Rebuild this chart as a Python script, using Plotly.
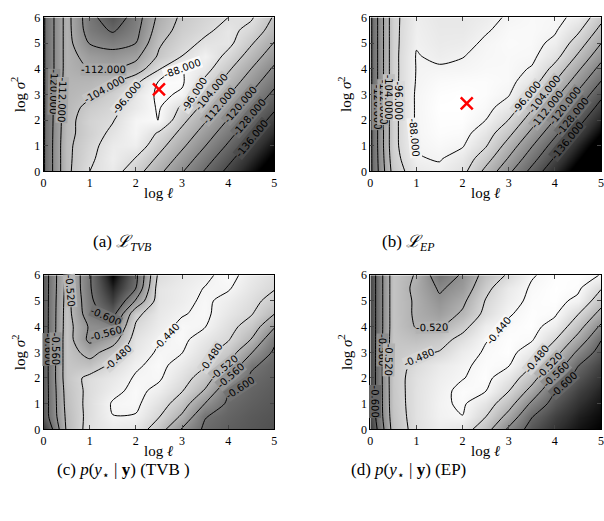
import math
import plotly.graph_objects as go

# ---------------- data ----------------
log_ell = [0, 0.5, 1, 1.5, 2, 2.5, 3, 3.5, 4, 4.5, 5]
log_sigma2 = [0, 0.5, 1, 1.5, 2, 2.5, 3, 3.5, 4, 4.5, 5, 5.5, 6]

# (a) L_TVB  rows: log sigma^2 = 0 .. 6, cols: log ell = 0 .. 5
L_tvb = [
    [-129, -106, -96, -92.5, -100.8, -110.1, -119.4, -128.7, -138, -147.3, -156.6],
    [-129, -106, -97.5, -91.2, -96.4, -105.7, -115, -124.3, -133.6, -142.9, -152.2],
    [-129, -106, -98.5, -92.2, -91, -101.2, -110.5, -119.8, -129.1, -138.4, -147.7],
    [-129, -106.5, -100, -94.3, -89.2, -96.9, -106.2, -115.5, -124.8, -134.1, -143.4],
    [-129, -107, -99.5, -96.5, -89, -87.9, -101.8, -111.1, -120.4, -129.7, -139],
    [-129, -107.5, -101.7, -98.5, -92.5, -87.2, -97.3, -106.6, -115.9, -125.2, -134.5],
    [-129, -108, -105.5, -100.5, -93.5, -86.5, -89, -102.1, -111.4, -120.7, -130],
    [-129, -108.5, -108, -105.5, -98, -87.5, -87, -97.7, -107, -116.3, -125.6],
    [-129, -109, -112.3, -112.5, -109, -96.7, -87.8, -93, -102.7, -112, -121.3],
    [-129, -109, -115, -117, -114, -103, -96, -90, -98.2, -107.5, -116.8],
    [-129, -109, -120.5, -123, -120, -105, -99, -94.5, -93.8, -103.1, -112.4],
    [-129, -109, -124, -129, -122.5, -108, -101, -97.5, -93.5, -98.6, -107.9],
    [-129, -109, -125, -134, -124, -110, -102.5, -99, -96, -95, -105],
]

# (b) L_EP
L_ep = [
    [-130, -101, -91, -89.5, -93.5, -106.2, -118.3, -130.4, -142.5, -154.6, -166.7],
    [-130, -99.5, -88.5, -87.5, -91, -100.6, -112.7, -124.8, -136.9, -149, -161.1],
    [-130, -98.5, -87.5, -86, -87.5, -95.3, -107.4, -119.5, -131.6, -143.7, -155.8],
    [-130, -98.5, -87, -85, -85.5, -92, -101.8, -113.9, -126, -138.1, -150.2],
    [-130, -98.5, -87, -84.5, -84.5, -88, -96.2, -108.3, -120.4, -132.5, -144.6],
    [-130, -98.5, -87, -84, -84, -86, -91, -102.8, -114.9, -127, -139.1],
    [-130, -98.5, -87, -84.5, -84, -85, -87.5, -97.5, -109.6, -121.7, -133.8],
    [-130, -98.5, -87.5, -85.5, -85, -85, -86, -92, -104, -116.1, -128.2],
    [-130, -98.5, -87.7, -87.2, -87, -86, -86, -88.5, -98.5, -110.6, -122.7],
    [-130, -98.5, -87.6, -89.5, -88.2, -86.5, -86, -86.5, -93, -105, -117.1],
    [-130, -98.5, -88.5, -90.5, -90, -87, -85.5, -86, -89.5, -99.7, -111.8],
    [-130, -98.5, -89, -91, -91, -88.6, -86, -85.8, -87.2, -94.5, -106.5],
    [-130, -98.5, -89.5, -91.5, -91.5, -90, -87.2, -86, -86.5, -89.5, -101.5],
]

# (c) p(y*|y) TVB
pred_tvb = [
    [-0.655, -0.515, -0.465, -0.452, -0.458, -0.501, -0.563, -0.607, -0.620, -0.628, -0.635],
    [-0.625, -0.512, -0.468, -0.4405, -0.442, -0.478, -0.526, -0.598, -0.614, -0.625, -0.632],
    [-0.625, -0.508, -0.468, -0.437, -0.434, -0.462, -0.500, -0.561, -0.607, -0.619, -0.628],
    [-0.625, -0.505, -0.470, -0.448, -0.432, -0.448, -0.478, -0.524, -0.596, -0.614, -0.624],
    [-0.625, -0.500, -0.470, -0.455, -0.437, -0.436, -0.464, -0.499, -0.559, -0.606, -0.619],
    [-0.625, -0.500, -0.505, -0.472, -0.444, -0.432, -0.452, -0.477, -0.523, -0.594, -0.614],
    [-0.625, -0.500, -0.535, -0.500, -0.455, -0.436, -0.439, -0.466, -0.498, -0.557, -0.606],
    [-0.625, -0.500, -0.570, -0.540, -0.462, -0.442, -0.433, -0.455, -0.477, -0.521, -0.592],
    [-0.625, -0.502, -0.565, -0.575, -0.475, -0.450, -0.434, -0.439, -0.467, -0.497, -0.556],
    [-0.625, -0.503, -0.585, -0.615, -0.490, -0.455, -0.442, -0.434, -0.457, -0.477, -0.519],
    [-0.625, -0.505, -0.590, -0.650, -0.555, -0.460, -0.448, -0.435, -0.449, -0.468, -0.495],
    [-0.625, -0.508, -0.595, -0.675, -0.600, -0.460, -0.450, -0.439, -0.437, -0.459, -0.477],
    [-0.625, -0.510, -0.595, -0.700, -0.610, -0.470, -0.455, -0.446, -0.430, -0.452, -0.468],
]

# (d) p(y*|y) EP
pred_ep = [
    [-0.640, -0.505, -0.466, -0.452, -0.461, -0.504, -0.567, -0.616, -0.647, -0.667, -0.680],
    [-0.630, -0.500, -0.465, -0.446, -0.4405, -0.479, -0.533, -0.598, -0.634, -0.659, -0.674],
    [-0.630, -0.497, -0.465, -0.445, -0.436, -0.461, -0.504, -0.567, -0.616, -0.647, -0.667],
    [-0.630, -0.496, -0.465, -0.447, -0.434, -0.439, -0.479, -0.533, -0.598, -0.634, -0.659],
    [-0.630, -0.495, -0.466, -0.450, -0.441, -0.432, -0.459, -0.504, -0.567, -0.616, -0.647],
    [-0.630, -0.495, -0.472, -0.455, -0.444, -0.434, -0.438, -0.478, -0.533, -0.598, -0.634],
    [-0.630, -0.497, -0.488, -0.478, -0.452, -0.437, -0.431, -0.456, -0.504, -0.567, -0.616],
    [-0.630, -0.498, -0.505, -0.495, -0.468, -0.4415, -0.432, -0.437, -0.478, -0.533, -0.598],
    [-0.630, -0.500, -0.522, -0.522, -0.492, -0.450, -0.436, -0.431, -0.452, -0.504, -0.567],
    [-0.630, -0.500, -0.525, -0.540, -0.515, -0.470, -0.442, -0.432, -0.436, -0.478, -0.533],
    [-0.630, -0.500, -0.525, -0.553, -0.528, -0.478, -0.450, -0.434, -0.431, -0.447, -0.504],
    [-0.630, -0.500, -0.528, -0.565, -0.545, -0.490, -0.455, -0.437, -0.430, -0.434, -0.477],
    [-0.630, -0.500, -0.523, -0.585, -0.555, -0.505, -0.475, -0.442, -0.432, -0.431, -0.441],
]

x_tick_vals = [0, 1, 2, 3, 4, 5]
y_tick_vals = [0, 1, 2, 3, 4, 5, 6]

opt_tvb_ell, opt_tvb_sig = [2.5], [3.2]
opt_ep_ell, opt_ep_sig = [2.09], [2.65]

captions = [
    "(a) <i>ℒ</i><sub><i>TVB</i></sub>",
    "(b) <i>ℒ</i><sub><i>EP</i></sub>",
    "(c) <i>p</i>(<i>y</i><sub>⋆</sub> | <b>y</b>) (TVB )",
    "(d) <i>p</i>(<i>y</i><sub>⋆</sub> | <b>y</b>) (EP)",
]

# contour-label placements: (level, scan direction, fixed coordinate, scan from, scan to[, angle])
labels_a = [(-88, "v", 3.0, 3.6, 5.0, -20), (-96, "h", 2.9, 1.0, 2.4, -50), (-104, "h", 3.2, 0.7, 2.0),
            (-112, "v", 1.3, 3.5, 4.6), (-120, "h", 3.1, 0.0, 0.5), (-112, "h", 2.8, 0.2, 0.8),
            (-96, "h", 3.0, 2.8, 4.0), (-104, "h", 3.1, 3.0, 4.5), (-112, "h", 2.55, 3.0, 4.6),
            (-120, "h", 2.6, 3.3, 5.0), (-128, "h", 2.1, 3.3, 5.0), (-136, "h", 1.3, 3.5, 5.0)]
labels_b = [(-88, "h", 1.3, 0.6, 1.3), (-120, "h", 2.5, 0.0, 0.4), (-112, "h", 2.7, 0.1, 0.5),
            (-104, "h", 2.9, 0.2, 0.6), (-96, "h", 2.75, 0.3, 0.9),
            (-96, "h", 2.9, 2.8, 4.2), (-104, "h", 3.0, 3.0, 4.6), (-112, "h", 2.4, 3.0, 4.6),
            (-120, "h", 2.55, 3.2, 5.0), (-128, "h", 2.15, 3.4, 5.0), (-136, "h", 1.2, 3.5, 5.0)]
labels_c = [(-0.52, "h", 5.4, 0.45, 1.0), (-0.60, "v", 1.35, 3.8, 5.0), (-0.56, "v", 1.35, 3.0, 4.2),
            (-0.48, "h", 2.8, 1.0, 2.2), (-0.44, "h", 3.6, 2.3, 3.0),
            (-0.48, "h", 2.8, 3.0, 4.5), (-0.52, "h", 2.42, 3.3, 4.8), (-0.56, "h", 2.08, 3.4, 5.0),
            (-0.60, "h", 1.63, 3.5, 5.0), (-0.60, "h", 3.1, 0.0, 0.3), (-0.56, "h", 3.15, 0.0, 0.45)]
labels_d = [(-0.52, "v", 1.33, 3.5, 4.5), (-0.48, "h", 2.8, 1.0, 2.0), (-0.44, "h", 3.84, 2.4, 3.1),
            (-0.48, "h", 2.74, 3.2, 4.5), (-0.52, "h", 2.5, 3.4, 4.8), (-0.56, "h", 2.14, 3.4, 5.0),
            (-0.60, "h", 1.74, 3.6, 5.0), (-0.60, "h", 1.1, 0.0, 0.4), (-0.56, "h", 3.07, 0.0, 0.45),
            (-0.52, "h", 2.7, 0.2, 0.7)]

# ---------------- figure ----------------
W, H = 604, 521
PX_PER_X = 233 / 5.0
PX_PER_Y = 158.3 / 6.0
GAMMA = 0.8
gray = [[k / 8, "rgb({0},{0},{0})".format(int(round(255 * (k / 8) ** GAMMA)))] for k in range(9)]
serif = "Liberation Serif, DejaVu Serif, Times New Roman, serif"

panels = [
    # z, zmin, zmax, start, end, size, xaxis, yaxis, labels
    (L_tvb, -150, -86, -136, -88, 8, "x", "y", labels_a),
    (L_ep, -150, -84, -136, -88, 8, "x2", "y2", labels_b),
    (pred_tvb, -0.70, -0.425, -0.60, -0.44, 0.04, "x3", "y3", labels_c),
    (pred_ep, -0.68, -0.43, -0.60, -0.44, 0.04, "x4", "y4", labels_d),
]


def interp_index(vals, v):
    for i in range(len(vals) - 1):
        if vals[i] <= v <= vals[i + 1]:
            return i, (v - vals[i]) / (vals[i + 1] - vals[i])
    if v < vals[0]:
        return 0, 0.0
    return len(vals) - 2, 1.0


def zval(z, x, y):
    i, tx = interp_index(log_ell, x)
    j, ty = interp_index(log_sigma2, y)
    a = z[j][i] * (1 - tx) + z[j][i + 1] * tx
    b = z[j + 1][i] * (1 - tx) + z[j + 1][i + 1] * tx
    return a * (1 - ty) + b * ty


def find_label(z, level, mode, fixed, lo, hi, n=500):
    prev = None
    for k in range(n + 1):
        t = lo + (hi - lo) * k / n
        x, y = (t, fixed) if mode == "h" else (fixed, t)
        f = zval(z, x, y) - level
        if prev is not None and (f == 0 or (f > 0) != (prev[1] > 0)):
            t0, f0 = prev
            tc = t0 + (t - t0) * (f0 / (f0 - f)) if f != f0 else t
            return (tc, fixed) if mode == "h" else (fixed, tc)
        prev = (t, f)
    return None


def label_angle(z, x, y):
    h = 0.08
    x1, x0 = min(x + h, 5), max(x - h, 0)
    y1, y0 = min(y + h, 6), max(y - h, 0)
    gx = (zval(z, x1, y) - zval(z, x0, y)) / (x1 - x0) / PX_PER_X
    gy = -(zval(z, x, y1) - zval(z, x, y0)) / (y1 - y0) / PX_PER_Y
    ang = math.degrees(math.atan2(gx, -gy))  # tangent direction in screen coords
    while ang > 90:
        ang -= 180
    while ang <= -90:
        ang += 180
    if ang < -72:
        ang += 180
    return ang


def gray_of(level, zmin, zmax):
    v = max(0.0, min(1.0, (level - zmin) / (zmax - zmin))) ** GAMMA
    c = int(round(255 * v))
    return f"rgb({c},{c},{c})"


fig = go.Figure()
annotations = []
for z, zmin, zmax, s, e, sz, xa, ya, labs in panels:
    fig.add_trace(go.Contour(
        x=log_ell, y=log_sigma2, z=z, xaxis=xa, yaxis=ya,
        colorscale=gray, zmin=zmin, zmax=zmax, showscale=False,
        autocontour=False,
        contours=dict(start=s, end=e + sz * 0.01, size=sz, coloring="heatmap", showlabels=False),
        line=dict(color="black", width=1, smoothing=0.8),
        hoverinfo="skip",
    ))
    for spec in labs:
        level, mode, fixed, lo, hi = spec[:5]
        pos = find_label(z, level, mode, fixed, lo, hi)
        if pos is None:
            continue
        lx, ly = pos
        ang = spec[5] if len(spec) > 5 else label_angle(z, lx, ly)
        annotations.append(dict(
            x=lx, y=ly, xref=xa, yref=ya, text=f"{level:.3f}", showarrow=False,
            textangle=ang, bgcolor=gray_of(level, zmin, zmax),
            borderpad=0, font=dict(family="DejaVu Sans", size=10, color="black"),
            xanchor="center", yanchor="middle"))

for xs, ys, xa, ya in [(opt_tvb_ell, opt_tvb_sig, "x", "y"), (opt_ep_ell, opt_ep_sig, "x2", "y2")]:
    fig.add_trace(go.Scatter(
        x=xs, y=ys, xaxis=xa, yaxis=ya, mode="markers",
        marker=dict(symbol="x-thin", size=12, line=dict(color="red", width=2.5), color="red"),
        hoverinfo="skip", showlegend=False,
    ))


def px_x(p):
    return p / W


def px_y(p):
    return 1 - p / H


tick_font = dict(family=serif, size=12, color="black")


def xaxis(l, r, anchor):
    return dict(domain=[px_x(l), px_x(r)], range=[0, 5], tickvals=x_tick_vals,
                ticks="inside", ticklen=4, showline=True, mirror="ticks",
                linecolor="black", linewidth=1, showgrid=False, zeroline=False,
                tickfont=tick_font, fixedrange=True, anchor=anchor,
                ticklabeloverflow="allow")


def yaxis(t, b, anchor):
    return dict(domain=[px_y(b), px_y(t)], range=[0, 6], tickvals=y_tick_vals,
                ticks="inside", ticklen=4, showline=True, mirror="ticks",
                linecolor="black", linewidth=1, showgrid=False, zeroline=False,
                tickfont=tick_font, anchor=anchor, fixedrange=True)


top_t, top_b = 10.7, 169
bot_t, bot_b = 275.7, 434
left_l, left_r = 41, 274
right_l, right_r = 371, 604

fig.update_layout(
    width=W, height=H, margin=dict(l=0, r=0, t=0, b=0),
    paper_bgcolor="white", plot_bgcolor="white", showlegend=False,
    xaxis=xaxis(left_l, left_r, "y"), yaxis=yaxis(top_t, top_b, "x"),
    xaxis2=xaxis(right_l, right_r, "y2"), yaxis2=yaxis(top_t, top_b, "x2"),
    xaxis3=xaxis(left_l, left_r, "y3"), yaxis3=yaxis(bot_t, bot_b, "x3"),
    xaxis4=xaxis(right_l, right_r, "y4"), yaxis4=yaxis(bot_t, bot_b, "x4"),
)

title_font = dict(family=serif, size=15, color="black")
cap_font = dict(family=serif, size=17, color="black")
for (l, r), (t, b), xt_y in [((left_l, left_r), (top_t, top_b), 191),
                              ((right_l, right_r), (top_t, top_b), 191),
                              ((left_l, left_r), (bot_t, bot_b), 456),
                              ((right_l, right_r), (bot_t, bot_b), 456)]:
    annotations.append(dict(x=px_x((l + r) / 2), y=px_y(xt_y), xref="paper", yref="paper",
                            text="log <i>ℓ</i>", showarrow=False, font=title_font,
                            xanchor="center", yanchor="middle"))
    annotations.append(dict(x=px_x(l - 25), y=px_y((t + b) / 2), xref="paper", yref="paper",
                            text="log <i>σ</i><sup>2</sup>", showarrow=False, font=title_font,
                            textangle=-90, xanchor="center", yanchor="middle"))

for text, cx, cy in zip(captions, [120, 410, 122, 410], [243, 243, 477, 477]):
    annotations.append(dict(x=px_x(cx), y=px_y(cy), xref="paper", yref="paper", text=text,
                            showarrow=False, font=cap_font, xanchor="center", yanchor="middle"))

fig.update_layout(annotations=annotations)

fig.write_html("out.html", config={"displayModeBar": False},
               post_script="document.body.style.margin='0';document.body.style.overflow='hidden';")
